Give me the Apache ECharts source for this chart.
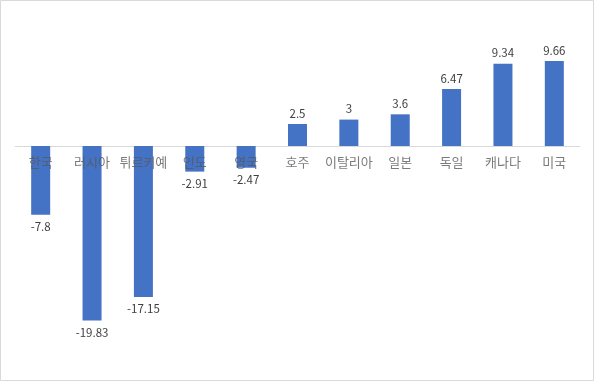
<!DOCTYPE html>
<html><head><meta charset="utf-8">
<script src="https://cdn.jsdelivr.net/npm/echarts@6/dist/echarts.min.js"></script>
<style>html,body{margin:0;padding:0;background:#fff}#c{width:594px;height:381px}</style>
</head><body><div id="c"></div>
<script>
const categories = ['한국','러시아','튀르키예','인도','영국','호주','이탈리아','일본','독일','캐나다','미국'];
const values = [-7.8, -19.83, -17.15, -2.91, -2.47, 2.5, 3, 3.6, 6.47, 9.34, 9.66];

const font = '"Noto Sans CJK KR", "Noto Sans", sans-serif';
const chart = echarts.init(document.getElementById('c'));
chart.setOption({
  animation: false,
  backgroundColor: '#fff',
  graphic: [{type:'rect', shape:{x:0.5,y:0.5,width:593,height:380}, style:{fill:'none', stroke:'#d9d9d9', lineWidth:1}, silent:true, z: 100}],
  grid: {left: 15, right: 14, top: 58, bottom: 59, containLabel: false},
  xAxis: {
    type: 'category', data: categories,
    axisLine: {show: true, onZero: true, lineStyle: {color: '#d9d9d9', width: 1}},
    axisTick: {show: false},
    axisLabel: {show: false}
  },
  yAxis: {
    type: 'value', min: -20, max: 10, interval: 10,
    axisLine: {show: false}, axisTick: {show: false}, axisLabel: {show: false},
    splitLine: {show: false}
  },
  series: [{
    type: 'bar',
    barWidth: 19,
    z: 1,
    itemStyle: {color: '#4472C4'},
    data: values.map(v => ({
      value: v,
      label: {show: true, position: v < 0 ? 'bottom' : 'top', distance: v < 0 ? 6 : 5,
        color: '#404040', fontSize: 11.5, fontFamily: font, formatter: p => String(p.value)}
    }))
  }, {
    type: 'scatter',
    z: 5,
    symbolSize: 0,
    silent: true,
    data: categories.map(c => [c, 0]),
    label: {show: true, position: 'bottom', distance: 10, color: '#595959', fontSize: 13, fontFamily: font,
      formatter: p => p.value[0]}
  }]
});
</script></body></html>
